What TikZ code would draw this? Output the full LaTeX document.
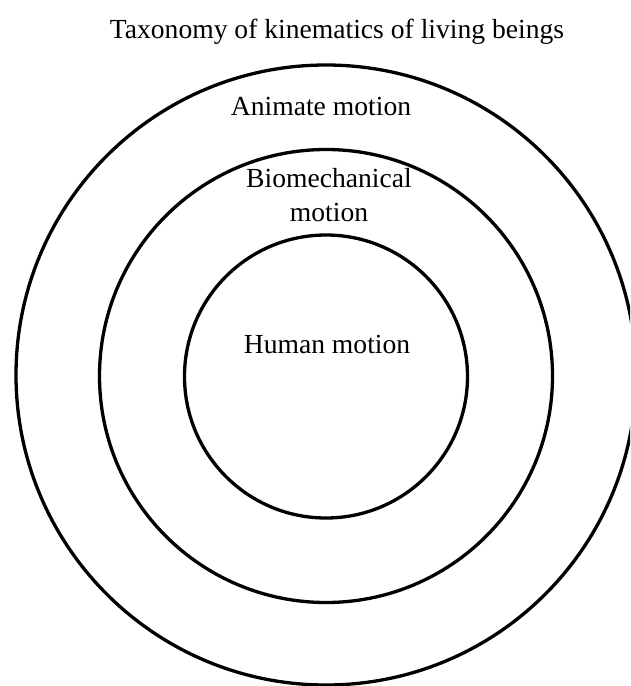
\documentclass[tikz,border=0pt]{standalone}
\usepackage{fontspec}
\setmainfont{Liberation Serif}
\begin{document}
\begin{tikzpicture}[x=1pt,y=1pt,
  ring/.style={circle, draw=black, line width=3.3pt, inner sep=0pt},
  label/.style={anchor=base, inner sep=0pt, font=\fontsize{27.6}{34}\selectfont, align=center}]
  \useasboundingbox (0,0) rectangle (630,-686);
  \clip (0,0) rectangle (630,-686);
  \fill[white] (0,0) rectangle (630,-686);
  % concentric rings
  \node[ring, minimum size=620] (animate) at (326,-375) {};
  \node[ring, minimum size=453] (biomech) at (326,-376) {};
  \node[ring, minimum size=283] (human) at (326,-376.5) {};
  % labels
  \node[label] (title) at (337,-38) {Taxonomy of kinematics of living beings};
  \node[label] (tanimate) at (321,-115) {Animate motion};
  \node[label] (tbiomech1) at (329,-187) {Biomechanical};
  \node[label] (tbiomech2) at (329,-221) {motion};
  \node[label] (thuman) at (327,-353) {Human motion};
\end{tikzpicture}
\end{document}
